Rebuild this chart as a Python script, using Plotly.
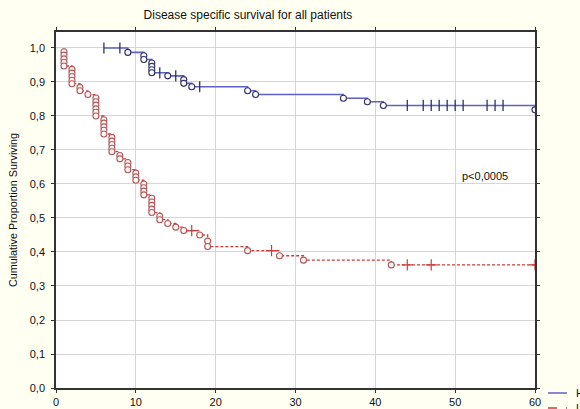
import plotly.graph_objects as go

# ---- data ----
# Upper group: event times and survival after each event (one entry per circle)
hi_start_t = 6
hi_event_t = [9, 11, 11, 12, 12, 12, 12, 14, 16, 16, 17, 24, 25, 36, 39, 41, 60]
hi_event_s = [0.987, 0.977, 0.966, 0.956, 0.946, 0.936, 0.927, 0.918, 0.907, 0.896, 0.886,
              0.874, 0.863, 0.852, 0.842, 0.831, 0.818]
hi_censor_t = [6, 8, 13, 15, 18, 44, 46, 47, 48, 49, 50, 51, 54, 55, 56]

# Lower group
lo_event_t = [1, 1, 1, 1, 1,
              2, 2, 2, 2, 2,
              3, 3, 4,
              5, 5, 5, 5, 5, 5,
              6, 6, 6, 6, 6,
              7, 7, 7, 7, 7,
              8, 8, 9, 9, 9,
              10, 10, 10,
              11, 11, 11, 11,
              12, 12, 12, 12, 12,
              13, 13, 14, 15, 16, 18, 19, 19, 24, 28, 31, 42]
lo_event_s = [0.989, 0.979, 0.968, 0.958, 0.947,
              0.937, 0.926, 0.916, 0.905, 0.895,
              0.884, 0.874, 0.863,
              0.853, 0.842, 0.832, 0.821, 0.811, 0.800,
              0.789, 0.779, 0.768, 0.758, 0.747,
              0.737, 0.726, 0.716, 0.705, 0.695,
              0.684, 0.674, 0.663, 0.653, 0.642,
              0.632, 0.621, 0.611,
              0.600, 0.589, 0.579, 0.568,
              0.558, 0.547, 0.537, 0.526, 0.516,
              0.505, 0.495, 0.484, 0.473, 0.463,
              0.450, 0.432, 0.416, 0.404, 0.389, 0.376, 0.362]
lo_censor_t = [17, 27, 44, 47, 60]

x_ticks = [0, 10, 20, 30, 40, 50, 60]
y_ticks = [0.0, 0.1, 0.2, 0.3, 0.4, 0.5, 0.6, 0.7, 0.8, 0.9, 1.0]
y_tick_text = ["0,0", "0,1", "0,2", "0,3", "0,4", "0,5", "0,6", "0,7", "0,8", "0,9", "1,0"]

title = "Disease specific survival for all patients"
y_title = "Cumulative Proportion Surviving"
p_text = "p<0,0005"
legend_names = ["High", "Low"]

HI_LINE = "#6060c0"
HI_MARK = "#30306a"
LO_LINE = "#cc3a3a"
LO_MARK = "#b05a5a"


def surv_at(t, ev_t, ev_s, start=1.0):
    s = start
    for et, es in zip(ev_t, ev_s):
        if et <= t:
            s = es
    return s


def curve(start_t, ev_t, ev_s, cens_t):
    end_t = max(max(ev_t), max(cens_t))
    xs = [start_t] + list(ev_t) + [end_t]
    ys = [1.0] + list(ev_s) + [ev_s[-1]]
    cy = [surv_at(t, ev_t, ev_s) for t in cens_t]
    return xs, ys, cy


fig = go.Figure()

hx, hy, hcy = curve(hi_start_t, hi_event_t, hi_event_s, hi_censor_t)
lx, ly, lcy = curve(lo_event_t[0], lo_event_t, lo_event_s, lo_censor_t)

fig.add_trace(go.Scatter(x=hx, y=hy, mode="lines", line=dict(color=HI_LINE, width=1.6, shape="hv"),
                         showlegend=False, hoverinfo="skip"))
fig.add_trace(go.Scatter(x=lx, y=ly, mode="lines",
                         line=dict(color=LO_LINE, width=1.3, shape="hv", dash="3px,2px"),
                         showlegend=False, hoverinfo="skip"))
fig.add_trace(go.Scatter(x=hi_event_t, y=hi_event_s, mode="markers",
                         marker=dict(symbol="circle", size=6, color="white",
                                     line=dict(color=HI_MARK, width=1.1)),
                         showlegend=False))
fig.add_trace(go.Scatter(x=hi_censor_t, y=hcy, mode="markers",
                         marker=dict(symbol="line-ns", size=8, line=dict(color=HI_MARK, width=1.3)),
                         showlegend=False))
fig.add_trace(go.Scatter(x=lo_event_t, y=lo_event_s, mode="markers",
                         marker=dict(symbol="circle", size=6, color="#fff4f4",
                                     line=dict(color=LO_MARK, width=1.1)),
                         showlegend=False))
fig.add_trace(go.Scatter(x=lo_censor_t, y=lcy, mode="markers",
                         marker=dict(symbol="cross-thin", size=8, line=dict(color=LO_LINE, width=1.2)),
                         showlegend=False))

axis_common = dict(showline=True, linecolor="#333333", linewidth=1.5, mirror="ticks",
                   ticks="outside", ticklen=3, tickcolor="#333333", automargin=False,
                   showgrid=True, gridcolor="#d6d6d6", gridwidth=1, zeroline=False,
                   tickfont=dict(family="Liberation Sans, Arial", size=11, color="#111111"))

fig.update_xaxes(range=[0, 60], tickvals=x_ticks, ticktext=[str(v) for v in x_ticks], **axis_common)
fig.update_yaxes(range=[0, 1.047], tickvals=y_ticks, ticktext=y_tick_text, ticklabelstandoff=4,
                 title=dict(text=y_title, font=dict(family="Liberation Sans, Arial", size=10.8, color="#111111"),
                            standoff=10),
                 **axis_common)

fig.add_annotation(text=p_text, x=0.896, y=0.624, xref="paper", yref="y", showarrow=False,
                   xanchor="center", yanchor="middle",
                   font=dict(family="Liberation Sans, Arial", size=11, color="#111111"))

# partial legend at bottom right (cut off by the image edge, as in the reference)
leg_y = [393, 408]
leg_colors = [HI_LINE, LO_LINE]
leg_dash = ["solid", "dash"]
W, H = 580, 409
L, R, T, B = 56, 45, 32, 21
pw, ph = W - L - R, H - T - B
for i, name in enumerate(legend_names):
    yy = 1 - (leg_y[i] - T) / ph
    fig.add_shape(type="line", xref="paper", yref="paper",
                  x0=(548 - L) / pw, x1=(567 - L) / pw, y0=yy, y1=yy,
                  line=dict(color=leg_colors[i], width=1.5, dash=leg_dash[i]))
    fig.add_annotation(text=name, xref="paper", yref="paper", x=(574 - L) / pw, y=yy,
                       xanchor="left", yanchor="middle", showarrow=False,
                       font=dict(family="Liberation Sans, Arial", size=11, color="#111111"))

fig.update_layout(
    width=W, height=H,
    margin=dict(l=L, r=R, t=T, b=B, autoexpand=False),
    paper_bgcolor="#fffff2", plot_bgcolor="white",
    title=dict(text=title, x=248 / W, xanchor="center", y=1 - 15 / H, yanchor="middle",
               font=dict(family="Liberation Sans, Arial", size=12, color="#111111")),
    showlegend=False,
)

fig.write_html("out.html")
